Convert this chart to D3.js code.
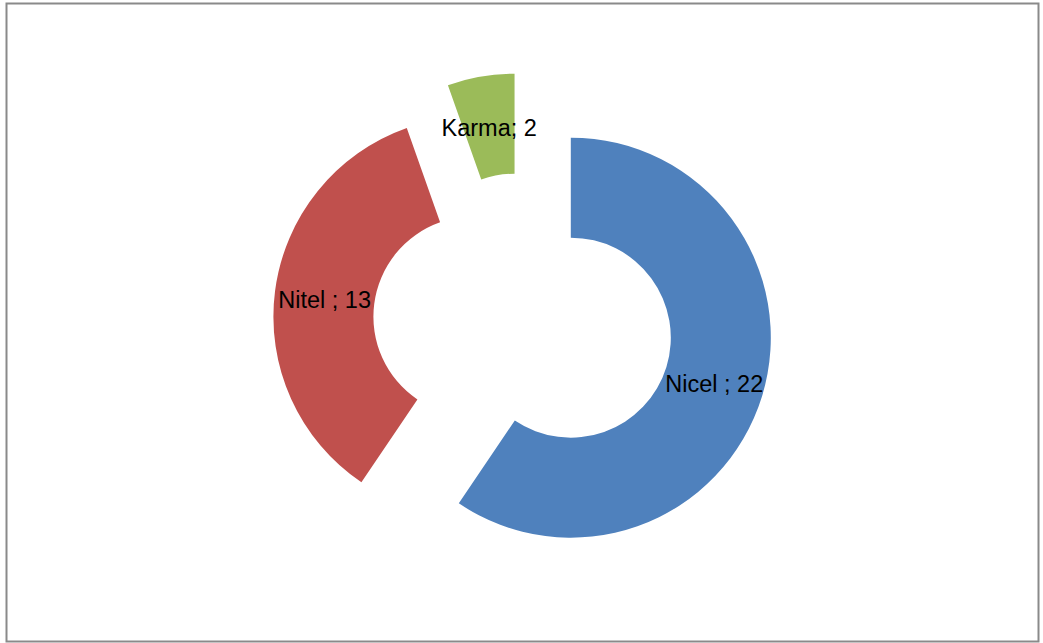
<!DOCTYPE html>
<html>
<head>
<meta charset="utf-8">
<script src="https://cdn.jsdelivr.net/npm/d3@7"></script>
<style>
  html, body { margin: 0; padding: 0; background: #fff; }
  svg { display: block; }
</style>
</head>
<body>
<svg id="chart" width="1043" height="643"></svg>
<script>
const categories = ["Nicel ", "Nitel ", "Karma"];
const values = [22, 13, 2];
const colors = ["#4F81BD", "#C0504D", "#9BBB59"];

const svg = d3.select("#chart");
const W = 1043, H = 643;

svg.append("rect")
  .attr("x", 6.5).attr("y", 3.5)
  .attr("width", 1032).attr("height", 638)
  .attr("fill", "#fff")
  .attr("stroke", "#8a8a8a")
  .attr("stroke-width", 2);

const cx = 523, cy = 323;
const outerR = 200, innerR = 100, explode = 50;

const data = categories.map((c, i) => ({ name: c, value: values[i], color: colors[i] }));

const pie = d3.pie().value(d => d.value).sort(null).startAngle(0).endAngle(2 * Math.PI);
const arcs = pie(data);
const arc = d3.arc().innerRadius(innerR).outerRadius(outerR);

const g = svg.append("g").attr("transform", `translate(${cx},${cy})`);

const slice = g.selectAll("g.slice").data(arcs).enter().append("g")
  .attr("class", "slice")
  .attr("transform", d => {
    const a = (d.startAngle + d.endAngle) / 2;
    return `translate(${explode * Math.sin(a)},${-explode * Math.cos(a)})`;
  });

slice.append("path")
  .attr("d", arc)
  .attr("fill", d => d.data.color);

slice.append("text")
  .attr("transform", d => `translate(${arc.centroid(d)})`)
  .attr("text-anchor", "middle")
  .attr("dy", "0.45em")
  .attr("font-family", "'Liberation Sans', Arial, sans-serif")
  .attr("font-size", 23.5)
  .attr("fill", "#000")
  .text(d => `${d.data.name}; ${d.data.value}`);
</script>
</body>
</html>
